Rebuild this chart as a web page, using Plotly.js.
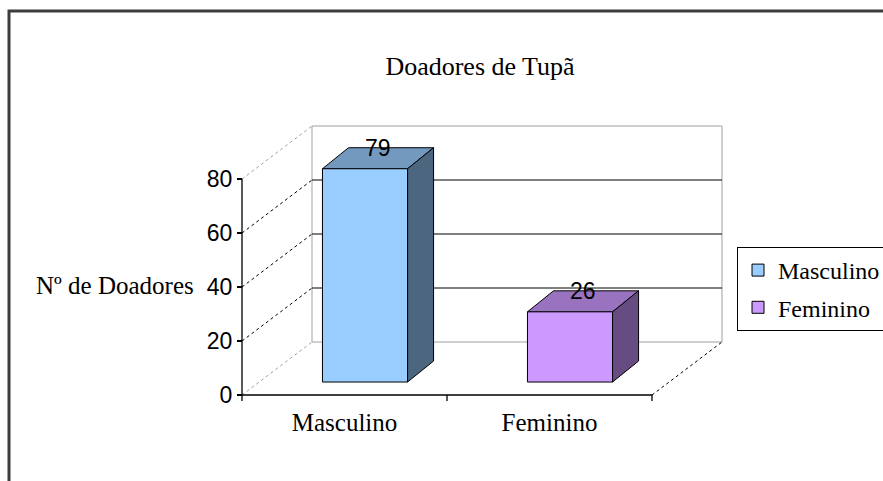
<!DOCTYPE html>
<html>
<head>
<meta charset="utf-8">
<script src="https://cdn.plot.ly/plotly-3.0.1.min.js"></script>
<style>
html,body{margin:0;padding:0;background:#fff;}
#chart{width:883px;height:481px;}
</style>
</head>
<body>
<div id="chart"></div>
<script>
// ---- data ----
const categories = ['Masculino', 'Feminino'];
const values = [79, 26];
const yTickVals = [0, 20, 40, 60, 80];
const chartTitle = 'Doadores de Tupã';
const yTitle = 'Nº de Doadores';

// ---- styles ----
const frontColors = ['#99CCFF', '#CC99FF'];
const topColors = ['#7399BF', '#9973BF'];
const sideColors = ['#4C6680', '#664C80'];

// ---- 3D geometry (in axis units) ----
const wallDX = 0.3415, wallDY = 19.63;     // depth of the whole chart box
const barOff = 0.10, barBase = 4.8;         // bars sit a little into the box
const barW = 0.415, barDX = 0.127, barDY = 7.78;
const yMax = 80;
const xLeft = -0.5, xRight = categories.length - 0.5;

const shapes = [];
function line(x0, y0, x1, y1, color, dash, width) {
  shapes.push({type: 'line', xref: 'x', yref: 'y', x0, y0, x1, y1, layer: 'below',
    line: {color, width: width || 1, dash: dash || 'solid'}});
}
function poly(pts, fill) {
  const d = 'M' + pts.map(p => p[0] + ',' + p[1]).join('L') + 'Z';
  shapes.push({type: 'path', xref: 'x', yref: 'y', path: d, layer: 'below',
    fillcolor: fill, line: {color: '#000', width: 1}});
}

// back wall
shapes.push({type: 'rect', xref: 'x', yref: 'y', layer: 'below',
  x0: xLeft + wallDX, x1: xRight + wallDX, y0: wallDY, y1: yMax + wallDY,
  fillcolor: '#fff', line: {color: '#a0a0a0', width: 1}});
yTickVals.forEach(v => {
  const edge = (v === 0 || v === yMax);
  if (!edge) line(xLeft + wallDX, v + wallDY, xRight + wallDX, v + wallDY, '#000', 'solid', 1);
  line(xLeft, v, xLeft + wallDX, v + wallDY, edge ? '#a0a0a0' : '#000', 'dot', 1);
});
// floor right edge
line(xRight, 0, xRight + wallDX, wallDY, '#000', 'dot', 1);
// front axes
line(xLeft, 0, xRight, 0, '#000', 'solid', 1.3);
line(xLeft, 0, xLeft, yMax, '#000', 'solid', 1.3);
for (let i = 0; i <= categories.length; i++) {
  shapes.push({type: 'line', xref: 'x', yref: 'y', layer: 'below',
    x0: xLeft + i, x1: xLeft + i, y0: 0, y1: -2.2, line: {color: '#000', width: 1.3}});
}
// bar top and side faces
values.forEach((v, i) => {
  const xl = i + barOff - barW / 2, xr = i + barOff + barW / 2, t = barBase + v;
  poly([[xl, t], [xr, t], [xr + barDX, t + barDY], [xl + barDX, t + barDY]], topColors[i]);
  poly([[xr, barBase], [xr, t], [xr + barDX, t + barDY], [xr + barDX, barBase + barDY]], sideColors[i]);
});

// outer chart frame (paper coords)
const L = 236, R = 730, T = 120, B = 402, W = 883, H = 481;
const px = x => (x - L) / (R - L);
const py = y => (B - y) / (B - T);
shapes.push({type: 'path', xref: 'paper', yref: 'paper', layer: 'above',
  path: `M${px(9)},${py(495)}L${px(9)},${py(11)}L${px(900)},${py(11)}`,
  line: {color: '#3c3c3c', width: 3}});

const traces = categories.map((c, i) => ({
  type: 'bar', name: c, x: [i + barOff], y: [values[i]], base: [barBase], width: [barW],
  marker: {color: frontColors[i], line: {color: '#000', width: 1}},
  legendgroup: 'g' + i, hoverinfo: 'skip'
}));

const serif = 'Liberation Serif, Times New Roman, serif';
const sans = 'Liberation Sans, Arial, sans-serif';
const annotations = values.map((v, i) => ({
  xref: 'x', yref: 'y', x: i + barOff + barDX / 2, y: barBase + v + barDY,
  text: String(v), showarrow: false, xanchor: 'center', yanchor: 'middle',
  font: {family: sans, size: 23, color: '#000'}
}));
annotations.push({xref: 'paper', yref: 'paper', x: px(34), y: py(285), xanchor: 'left', yanchor: 'middle',
  text: yTitle, showarrow: false, font: {family: serif, size: 25, color: '#000'}});

const xPxPerUnit = 205, yPxPerUnit = 2.7;
const layout = {
  width: W, height: H,
  margin: {l: L, r: W - R, t: T, b: H - B, pad: 0, autoexpand: false},
  paper_bgcolor: '#fff', plot_bgcolor: 'rgba(0,0,0,0)',
  barmode: 'overlay',
  title: {text: chartTitle, xref: 'paper', x: px(480), xanchor: 'center',
    yref: 'container', y: 1 - 66 / H, yanchor: 'middle',
    font: {family: serif, size: 26, color: '#000'}},
  xaxis: {range: [xLeft - 6 / xPxPerUnit, xLeft + (R - 242) / xPxPerUnit],
    anchor: 'free', position: (B - 395) / (B - T),
    tickmode: 'array', tickvals: categories.map((c, i) => i), ticktext: categories,
    ticks: '', showgrid: false, zeroline: false, showline: false, fixedrange: true,
    ticklabelstandoff: 10,
    tickfont: {family: serif, size: 25, color: '#000'}},
  yaxis: {range: [-(B - 395) / yPxPerUnit, (395 - T) / yPxPerUnit],
    anchor: 'free', position: 6 / (R - L),
    tickmode: 'array', tickvals: yTickVals, ticks: 'outside', ticklen: 5, tickwidth: 1.3, tickcolor: '#000',
    showgrid: false, zeroline: false, showline: false, fixedrange: true,
    tickfont: {family: sans, size: 23, color: '#000'}},
  showlegend: true,
  legend: {x: px(737), xanchor: 'left', y: py(247), yanchor: 'top',
    bgcolor: '#fff', bordercolor: '#000', borderwidth: 1,
    traceorder: 'grouped', tracegroupgap: 3, itemwidth: 30,
    font: {family: serif, size: 24, color: '#000'}},
  shapes, annotations
};

Plotly.newPlot('chart', traces, layout, {staticPlot: true, displayModeBar: false});
</script>
</body>
</html>
